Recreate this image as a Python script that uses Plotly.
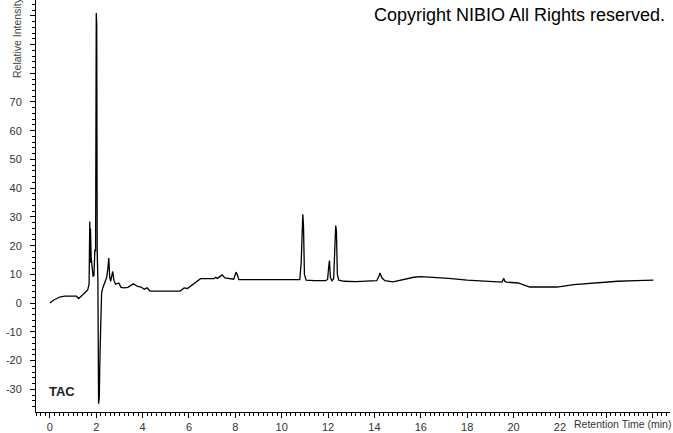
import plotly.graph_objects as go

# Retention time (min)
times = [
    0.00, 0.15, 0.45, 0.65, 1.14, 1.24, 1.43, 1.55, 1.63, 1.69,
    1.72, 1.74, 1.75, 1.78, 1.82, 1.86, 1.90, 1.94, 1.97, 2.00,
    2.02, 2.04, 2.07, 2.10, 2.13, 2.16, 2.19, 2.23, 2.27, 2.36,
    2.45, 2.50, 2.54, 2.58, 2.62, 2.67, 2.71, 2.76, 2.83, 2.97,
    3.07, 3.20, 3.36, 3.60, 3.79, 3.93, 4.07, 4.19, 4.32, 5.62,
    5.79, 5.93, 6.15, 6.36, 6.50, 7.08, 7.15, 7.22, 7.43, 7.55,
    7.79, 7.93, 8.03, 8.09, 8.15, 8.60, 9.20, 9.80, 10.40, 10.78,
    10.84, 10.88, 10.91, 10.94, 10.98, 11.05, 11.40, 11.90, 11.98, 12.03,
    12.06, 12.10, 12.17, 12.24, 12.29, 12.33, 12.36, 12.40, 12.46, 12.70,
    13.20, 13.80, 14.10, 14.20, 14.24, 14.32, 14.45, 14.80, 15.30, 15.70,
    16.00, 16.60, 17.20, 18.00, 18.80, 19.50, 19.58, 19.62, 19.70, 20.20,
    20.70, 21.30, 21.87, 22.60, 23.50, 24.50, 25.30, 26.03,
]

# Relative intensity
intensity = [
    0.0, 1.0, 2.2, 2.4, 2.4, 1.6, 3.0, 4.0, 4.6, 6.6,
    28.4, 14.0, 26.0, 16.0, 12.0, 9.4, 9.6, 18.7, 18.0, 101.0,
    97.0, 18.0, 8.0, -35.0, -33.0, -18.0, -4.0, 3.5, 5.0, 7.3,
    9.0, 12.0, 15.7, 9.0, 7.6, 9.5, 11.0, 8.0, 6.6, 7.0,
    5.5, 5.3, 5.5, 6.7, 5.8, 5.6, 4.85, 5.3, 4.2, 4.2,
    5.3, 5.1, 6.5, 7.6, 8.5, 8.5, 9.0, 8.6, 9.8, 8.8,
    8.5, 8.3, 10.8, 9.8, 8.2, 8.2, 8.0, 8.2, 8.0, 8.2,
    14.0, 24.4, 30.9, 26.7, 10.0, 8.0, 7.8, 7.8, 8.3, 13.0,
    14.8, 9.0, 7.8, 8.5, 18.0, 27.0, 25.0, 10.0, 8.0, 7.6,
    7.5, 7.6, 7.8, 9.5, 10.5, 8.8, 7.8, 7.4, 8.2, 9.0,
    9.2, 9.0, 8.6, 8.0, 7.6, 7.3, 8.6, 7.6, 7.3, 7.0,
    5.6, 5.5, 5.6, 6.4, 7.0, 7.6, 7.8, 8.0,
]

x_tick_vals = [0, 2, 4, 6, 8, 10, 12, 14, 16, 18, 20, 22, 24, 26]
x_tick_text = ["0", "2", "4", "6", "8", "10", "12", "14", "16", "18", "20", "22", "", ""]
y_tick_vals = [-30, -20, -10, 0, 10, 20, 30, 40, 50, 60, 70, 80, 90, 100]
y_tick_text = ["-30", "-20", "-10", "0", "10", "20", "30", "40", "50", "60", "70", "", "", ""]

FONT = "Liberation Sans, Arial, sans-serif"

fig = go.Figure()
fig.add_trace(go.Scatter(
    x=times, y=intensity, mode="lines",
    line=dict(color="black", width=1.3, shape="linear"),
    hoverinfo="skip", showlegend=False,
))

fig.update_layout(
    width=673, height=433,
    margin=dict(l=36, r=3, t=0, b=19),
    paper_bgcolor="white", plot_bgcolor="white",
    font=dict(family=FONT, color="#333"),
    xaxis=dict(
        range=[-0.6, 26.75], showline=True, linecolor="black", linewidth=1,
        showgrid=False, zeroline=False,
        tickmode="array", tickvals=x_tick_vals, ticktext=x_tick_text,
        ticks="outside", ticklen=5, tickcolor="black",
        tickfont=dict(size=11, color="#333", family=FONT),
        minor=dict(tickmode="linear", tick0=0, dtick=0.2, ticks="outside",
                   ticklen=3, tickcolor="black", showgrid=False),
    ),
    yaxis=dict(
        range=[-37.9, 105.5], showline=True, linecolor="black", linewidth=1,
        showgrid=False, zeroline=False,
        tickmode="array", tickvals=y_tick_vals, ticktext=y_tick_text,
        ticks="outside", ticklen=5, tickcolor="black",
        ticklabelstandoff=6,
        tickfont=dict(size=11, color="#333", family=FONT),
        minor=dict(tickmode="linear", tick0=0, dtick=2, ticks="outside",
                   ticklen=3, tickcolor="black", showgrid=False),
    ),
    annotations=[
        dict(text="Copyright NIBIO All Rights reserved.", xref="paper", yref="paper",
             x=0.995, y=1.0, xanchor="right", yanchor="top", showarrow=False,
             yshift=-3, font=dict(size=18, color="black", family=FONT)),
        dict(text="Relative Intensity", xref="paper", yref="paper",
             x=-0.0, y=1.0, xanchor="center", yanchor="middle", showarrow=False,
             textangle=-90, xshift=-19, yshift=-38,
             font=dict(size=10.5, color="#444", family=FONT)),
        dict(text="Retention Time (min)", xref="paper", yref="paper",
             x=1.0, y=0.0, xanchor="right", yanchor="top", showarrow=False,
             xshift=3, yshift=-4,
             font=dict(size=10.5, color="#333", family=FONT)),
        dict(text="<b>TAC</b>", xref="paper", yref="paper",
             x=0.0, y=0.0, xanchor="left", yanchor="middle", showarrow=False,
             xshift=11, yshift=21,
             font=dict(size=13, color="#222", family=FONT)),
    ],
)

fig.write_html(
    "out.html",
    config={"displayModeBar": False, "staticPlot": True},
    post_script="document.body.style.margin='0';document.body.style.overflow='hidden';",
)
